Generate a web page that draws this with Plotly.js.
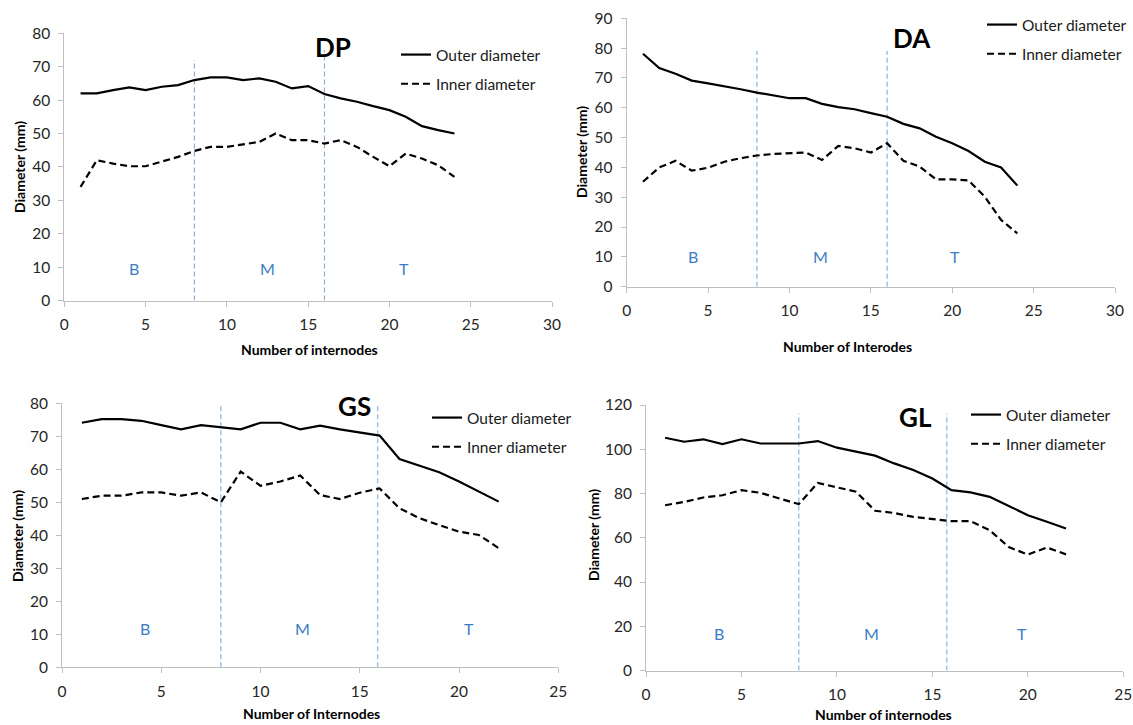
<!DOCTYPE html>
<html><head><meta charset="utf-8">
<script src="https://cdn.plot.ly/plotly-3.0.1.min.js"></script>
<style>html,body{margin:0;padding:0;background:#fff}#chart{width:1133px;height:725px}</style>
</head><body><div id="chart"></div>
<script>
// ---- DATA ----
const internodesDP = [1,2,3,4,5,6,7,8,9,10,11,12,13,14,15,16,17,18,19,20,21,22,23,24];
const outerDP = [62,62,63,63.8,63,64,64.5,66,66.8,66.8,66,66.5,65.5,63.5,64.2,61.8,60.5,59.5,58.2,57,55,52.2,51,50];
const innerDP = [34,42,41,40.2,40.2,41.7,43,44.8,46,46,46.8,47.5,50,48,48,47,48,46,43,40.2,44,42.5,40.5,37];

const internodesDA = [1,2,3,4,5,6,7,8,9,10,11,12,13,14,15,16,17,18,19,20,21,22,23,24];
const outerDA = [78.1,73.3,71.4,69.1,68.2,67.3,66.2,65.1,64.1,63.2,63.2,61.3,60.2,59.5,58.2,57,54.6,53.1,50.3,48.1,45.5,41.9,40,33.9];
const innerDA = [35.2,40,42.2,38.9,39.9,41.9,43.1,44,44.5,44.7,45,42.5,47.2,46.4,45,48.1,42.2,40.3,36,36,35.6,30.2,22.4,17.9];

const internodesGS = [1,2,3,4,5,6,7,8,9,10,11,12,13,14,15,16,17,18,19,20,21,22];
const outerGS = [74.1,75.2,75.2,74.7,73.4,72.1,73.4,72.7,72.1,74.1,74.1,72.1,73.2,72.1,71.2,70.2,63.1,61.1,59.1,56.3,53.2,50.2];
const innerGS = [51,52,52,53,53,52,53,50,59.3,55,56.3,58.1,52.2,51,52.9,54.2,48.2,45.2,43.1,41.1,40.1,36.1];

const internodesGL = [1,2,3,4,5,6,7,8,9,10,11,12,13,14,15,16,17,18,19,20,21,22];
const outerGL = [105.2,103.4,104.5,102.3,104.5,102.6,102.6,102.6,103.7,100.7,98.9,97.1,93.6,90.6,86.8,81.5,80.5,78.5,74.4,70.2,67.2,64.2];
const innerGL = [74.7,76.2,78.2,79.2,81.5,80.3,77.7,75.2,84.8,82.7,80.8,72.2,71.2,69.4,68.4,67.5,67.5,63.4,55.8,52.4,55.6,52.5];

const panelNames = ["DP","DA","GS","GL"];
const xTitles = ["Number of internodes","Number of Interodes","Number of Internodes","Number of internodes"];
const yTitle = "Diameter (mm)";
const seriesNames = ["Outer diameter","Inner diameter"];
const zoneLabels = ["B","M","T"];
const zoneLabelX = [[4.3,12.5,20.9],[4.1,11.9,20.2],[4.2,12.1,20.5],[3.8,11.8,19.7]];
const zoneLabelY = [9.6,10,11.9,16.8];
const boundaryX = [[8,16],[8,16],[8,15.9],[8,15.75]];
const boundaryTop = [[72,75],[79,79],[80,80],[116,116]];
const xMax = [30,30,25,25];
const yMax = [80,90,80,120];
const yStep = [10,10,10,20];

// ---- LAYOUT GEOMETRY (pixels) ----
const W = 1133, H = 725;
const px = v => v / W, py = v => 1 - v / H;
const geo = [
  {l:64.3, r:552, t:33.3, b:300.5},
  {l:626.7, r:1115, t:18.3, b:286.7},
  {l:62, r:558.3, t:403.3, b:667.3},
  {l:646, r:1123.3, t:405, b:670.5}
];
const titlePos = [[333,47],[912,38],[354,406],[915,417]];
const xTitlePos = [[309,349],[847,347],[311,713],[884,714]];
const yTitlePos = [[19,167],[581,152],[17,536],[593,535]];
const legendPos = [[396,38],[982,8],[427,401],[966,398]];
const boundaryColor = ["#7f9fc8","#9dc3e6","#9dc3e6","#9dc3e6"];

const xs = [internodesDP, internodesDA, internodesGS, internodesGL];
const outers = [outerDP, outerDA, outerGS, outerGL];
const inners = [innerDP, innerDA, innerGS, innerGL];

const FONT = "Lato, 'Open Sans', sans-serif";
const data = [];
const layout = {
  width: W, height: H,
  margin: {l:0, r:0, t:0, b:0},
  paper_bgcolor: "#fff", plot_bgcolor: "#fff",
  font: {family: FONT, color: "#262626"},
  shapes: [], annotations: []
};

for (let i = 0; i < 4; i++) {
  const sfx = i === 0 ? "" : String(i + 1);
  const xa = "x" + sfx, ya = "y" + sfx;
  const lg = "legend" + sfx;
  data.push({
    x: xs[i], y: outers[i], xaxis: xa, yaxis: ya, type: "scatter", mode: "lines",
    name: seriesNames[0], legend: lg, legendgroup: "o" + i,
    line: {color: "#000", width: 2.2}
  });
  data.push({
    x: xs[i], y: inners[i], xaxis: xa, yaxis: ya, type: "scatter", mode: "lines",
    name: seriesNames[1], legend: lg, legendgroup: "i" + i,
    line: {color: "#000", width: 2.2, dash: "7px,4px"}
  });
  const g = geo[i];
  const axisCommon = {
    showline: true, linecolor: "#bfbfbf", linewidth: 1,
    ticks: "outside", ticklen: 5, tickcolor: "#bfbfbf", tickwidth: 1,
    showgrid: false, zeroline: false, fixedrange: true,
    tickfont: {family: FONT, size: 15.5, color: "#262626"}
  };
  layout["xaxis" + sfx] = Object.assign({}, axisCommon, {
    domain: [px(g.l), px(g.r)], anchor: ya, range: [0, xMax[i]],
    tickmode: "linear", tick0: 0, dtick: 5, ticklabelstandoff: 5
  });
  layout["yaxis" + sfx] = Object.assign({}, axisCommon, {
    domain: [py(g.b), py(g.t)], anchor: xa, range: [0, yMax[i]],
    tickmode: "linear", tick0: 0, dtick: yStep[i], ticklabelstandoff: 5
  });
  layout[lg] = {
    x: px(legendPos[i][0]), y: py(legendPos[i][1]), xanchor: "left", yanchor: "top",
    bgcolor: "rgba(0,0,0,0)", borderwidth: 0,
    font: {family: FONT, size: 15.5, color: "#1a1a1a"},
    traceorder: "grouped", tracegroupgap: 6
  };
  boundaryX[i].forEach((bx, k) => {
    layout.shapes.push({
      type: "line", xref: xa, yref: ya, x0: bx, x1: bx, y0: 0, y1: boundaryTop[i][k],
      layer: "below", line: {color: boundaryColor[i], width: i === 0 ? 1 : 1.5, dash: "5px,3px"}
    });
  });
  zoneLabels.forEach((t, k) => {
    layout.annotations.push({
      text: t, xref: xa, yref: ya, x: zoneLabelX[i][k], y: zoneLabelY[i],
      showarrow: false, font: {family: FONT, size: 16, color: "#3d7cc4"}
    });
  });
  layout.annotations.push({
    text: "<b>" + panelNames[i] + "</b>", xref: "paper", yref: "paper",
    x: px(titlePos[i][0]), y: py(titlePos[i][1]), xanchor: "center", yanchor: "middle",
    showarrow: false, font: {family: FONT, size: 26, color: "#000"}
  });
  layout.annotations.push({
    text: "<b>" + xTitles[i] + "</b>", xref: "paper", yref: "paper",
    x: px(xTitlePos[i][0]), y: py(xTitlePos[i][1]), xanchor: "center", yanchor: "middle",
    showarrow: false, font: {family: FONT, size: 14, color: "#000"}
  });
  layout.annotations.push({
    text: "<b>" + yTitle + "</b>", xref: "paper", yref: "paper", textangle: -90,
    x: px(yTitlePos[i][0]), y: py(yTitlePos[i][1]), xanchor: "center", yanchor: "middle",
    showarrow: false, font: {family: FONT, size: 14, color: "#000"}
  });
}

Plotly.newPlot("chart", data, layout, {displayModeBar: false, staticPlot: true});
</script>
</body></html>
